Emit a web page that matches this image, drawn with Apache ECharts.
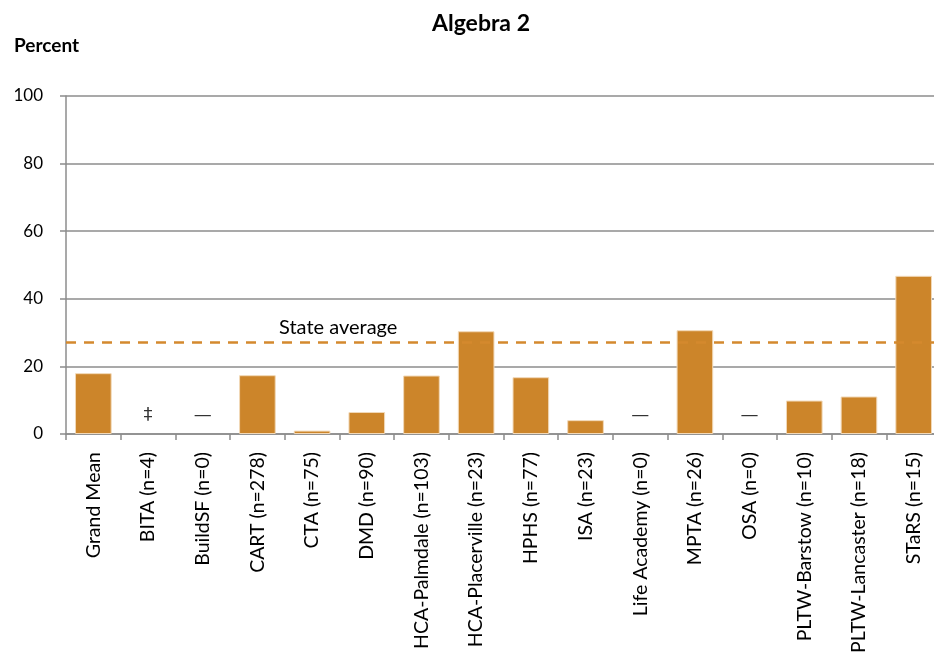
<!DOCTYPE html>
<html><head><meta charset="utf-8">
<script src="https://cdn.jsdelivr.net/npm/echarts@6/dist/echarts.min.js"></script>
<style>html,body{margin:0;padding:0;background:#fff;overflow:hidden;width:934px;height:656px}#c{width:941px;height:656px}</style>
</head><body><div id="c"></div>
<script>
var categories = ['Grand Mean','BITA (n=4)','BuildSF (n=0)','CART (n=278)','CTA (n=75)','DMD (n=90)','HCA-Palmdale (n=103)','HCA-Placerville (n=23)','HPHS (n=77)','ISA (n=23)','Life Academy (n=0)','MPTA (n=26)','OSA (n=0)','PLTW-Barstow (n=10)','PLTW-Lancaster (n=18)','STaRS (n=15)'];
var values = [18.0, null, null, 17.4, 1.0, 6.5, 17.3, 30.4, 16.8, 4.1, null, 30.7, null, 9.9, 11.1, 46.8];
var notes = ['', '‡', '—', '', '', '', '', '', '', '', '—', '', '—', '', '', ''];
var noteLevel = 5.4;
var stateAverage = 27.0;
var yTicks = [0, 20, 40, 60, 80, 100];

var font = 'Lato, "Open Sans", sans-serif';
var chart = echarts.init(document.getElementById('c'));
chart.setOption({
  animation: false,
  textStyle: {fontFamily: font},
  title: [
    {text: 'Algebra 2', left: 427, top: 7, textStyle: {fontFamily: font, fontSize: 23, fontWeight: 'bold', color: '#000'}},
    {text: 'Percent', left: 9, top: 31, textStyle: {fontFamily: font, fontSize: 19, fontWeight: 'bold', color: '#000'}}
  ],
  grid: {left: 66, right: 0, top: 96, bottom: 222, containLabel: false},
  xAxis: {
    type: 'category', data: categories,
    axisLine: {lineStyle: {color: '#8c8c8c', width: 1.5}},
    axisTick: {show: true, length: 6, lineStyle: {color: '#8c8c8c', width: 1.5}},
    axisLabel: {rotate: 90, color: '#000', fontSize: 19.5, fontFamily: font, margin: 18, interval: 0}
  },
  yAxis: {
    type: 'value', min: 0, max: 100, interval: 20,
    axisLine: {show: true, lineStyle: {color: '#8c8c8c', width: 1.5}},
    axisTick: {show: true, length: 6, lineStyle: {color: '#8c8c8c', width: 1.5}},
    splitLine: {lineStyle: {color: '#8c8c8c', width: 1.5}},
    axisLabel: {color: '#000', fontSize: 17, fontFamily: font, margin: 23,
      formatter: function (v) { return yTicks.indexOf(v) >= 0 ? String(v) : ''; }}
  },
  series: [{
    type: 'bar', data: values, barCategoryGap: '33%',
    itemStyle: {color: '#CC852A', borderColor: '#F2D9B8', borderWidth: 1},
    markLine: {
      silent: true, symbol: 'none',
      data: [{yAxis: stateAverage}],
      lineStyle: {color: '#D4892E', type: [10, 8], width: 2.5},
      label: {show: true, position: 'insideStartTop', formatter: 'State average', color: '#000', fontSize: 20, fontFamily: font, padding: [0, 0, 0, 208], distance: 5}
    }
  }, {
    type: 'scatter', symbolSize: 0,
    data: notes.map(function (n) { return n ? noteLevel : null; }),
    label: {show: true, position: 'inside', color: '#000', fontSize: 18, fontFamily: '"DejaVu Sans", sans-serif',
      formatter: function (p) { return notes[p.dataIndex]; }}
  }]
});
</script></body></html>
